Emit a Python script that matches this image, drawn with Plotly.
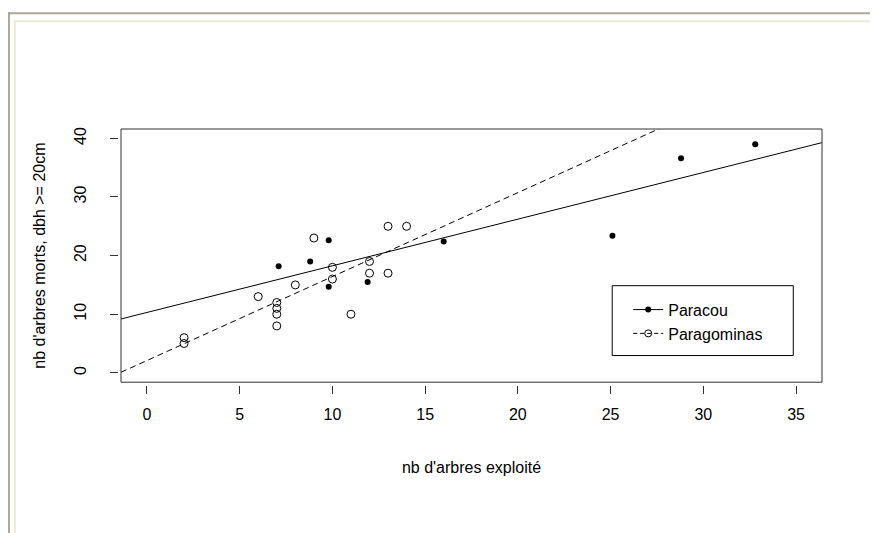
import plotly.graph_objects as go

# ---- data ----
paracou_x = [7.1, 8.8, 9.8, 9.8, 11.9, 16.0, 25.1, 28.8, 32.8]
paracou_y = [18.2, 19.0, 22.6, 14.7, 15.5, 22.4, 23.4, 36.6, 39.0]

paragominas_x = [2, 2, 6, 7, 7, 7, 7, 8, 9, 10, 10, 11, 12, 12, 13, 13, 14]
paragominas_y = [6, 5, 13, 12, 11, 10, 8, 15, 23, 18, 16, 10, 19, 17, 25, 17, 25]

# fitted lines (intercept, slope)
fit_names = ["Paracou", "Paragominas"]
fit_intercepts = [10.3, 2.1]
fit_slopes = [0.796, 1.432]

x_ticks = [0, 5, 10, 15, 20, 25, 30, 35]
y_ticks = [0, 10, 20, 30, 40]
x_range = [-1.4, 36.4]
y_range = [-1.6, 41.6]

FONT = "Liberation Sans, Arial, sans-serif"

# ---- layout geometry (page pixels; the page body has an 8px margin) ----
OFF = 8
W, H = 878 - OFF, 533 - OFF
L, R, T, B = 118 - OFF, 56.3, 129 - OFF, 147.5
PW = W - L - R
PH = H - T - B


def px(x):
    return (x - OFF - L) / PW


def py(y):
    return (H - B - (y - OFF)) / PH


fig = go.Figure()

fig.add_trace(go.Scatter(
    x=paracou_x, y=paracou_y, mode="markers", showlegend=False,
    marker=dict(symbol="circle", size=6, color="black"),
))
fig.add_trace(go.Scatter(
    x=paragominas_x, y=paragominas_y, mode="markers", showlegend=False,
    marker=dict(symbol="circle-open", size=8, color="black", line=dict(width=1)),
))

dashes = ["solid", "6px,4px"]
for name, a, b, d in zip(fit_names, fit_intercepts, fit_slopes, dashes):
    fig.add_trace(go.Scatter(
        x=x_range, y=[a + b * x_range[0], a + b * x_range[1]],
        mode="lines", showlegend=False, cliponaxis=True,
        line=dict(color="black", width=1, dash=d),
    ))

# legend entries
fig.add_trace(go.Scatter(
    x=[None], y=[None], mode="lines+markers", name="Paracou",
    line=dict(color="black", width=1),
    marker=dict(symbol="circle", size=6, color="black"),
))
fig.add_trace(go.Scatter(
    x=[None], y=[None], mode="lines+markers", name="Paragominas",
    line=dict(color="black", width=1, dash="4px,3px"),
    marker=dict(symbol="circle-open", size=7, color="black", line=dict(width=1)),
))

shapes = [
    # plot box
    dict(type="rect", xref="x domain", yref="y domain", x0=0, x1=1, y0=0, y1=1,
         line=dict(color="#303030", width=1)),
    # legend box
    dict(type="rect", xref="paper", yref="paper",
         x0=px(612), x1=px(793), y0=py(356), y1=py(286),
         line=dict(color="black", width=1), fillcolor="white", layer="below"),
    # page frame lines
    dict(type="line", xref="paper", yref="paper", x0=px(8), x1=px(880), y0=py(13), y1=py(13),
         line=dict(color="#aca899", width=2)),
    dict(type="line", xref="paper", yref="paper", x0=px(9), x1=px(9), y0=py(12), y1=py(540),
         line=dict(color="#aca899", width=2)),
    dict(type="line", xref="paper", yref="paper", x0=px(14), x1=px(880), y0=py(21), y1=py(21),
         line=dict(color="#ece9d8", width=2)),
    dict(type="line", xref="paper", yref="paper", x0=px(15), x1=px(15), y0=py(20), y1=py(540),
         line=dict(color="#ece9d8", width=2)),
]

fig.update_layout(
    width=W, height=H,
    margin=dict(l=L, r=R, t=T, b=B, autoexpand=False),
    paper_bgcolor="white", plot_bgcolor="white",
    font=dict(family=FONT, size=16, color="black"),
    shapes=shapes,
    showlegend=True,
    legend=dict(
        x=px(628), y=py(293), xanchor="left", yanchor="top",
        bgcolor="rgba(0,0,0,0)", borderwidth=0,
        font=dict(family=FONT, size=16, color="black"),
        tracegroupgap=0,
    ),
    xaxis=dict(
        domain=[3 / PW, 1], anchor="free", position=0,
        range=x_range, tickvals=x_ticks, ticktext=[str(v) for v in x_ticks],
        showgrid=False, zeroline=False, showline=False,
        ticks="outside", ticklen=8, tickwidth=1, tickcolor="#303030",
        ticklabelstandoff=7,
        tickfont=dict(family=FONT, size=16, color="black"),
        title=dict(text="nb d'arbres exploité", standoff=39,
                   font=dict(family=FONT, size=16, color="black")),
    ),
    yaxis=dict(
        domain=[2.8 / PH, 1], anchor="free", position=0,
        range=y_range, tickvals=y_ticks, ticktext=[str(v) for v in y_ticks],
        showgrid=False, zeroline=False, showline=False,
        ticks="outside", ticklen=8, tickwidth=1, tickcolor="#303030",
        tickangle=-90, ticklabelstandoff=18,
        tickfont=dict(family=FONT, size=16, color="black"),
        title=dict(text="nb d'arbres morts, dbh >= 20cm", standoff=20,
                   font=dict(family=FONT, size=16, color="black")),
    ),
)

fig.write_html("out.html")
